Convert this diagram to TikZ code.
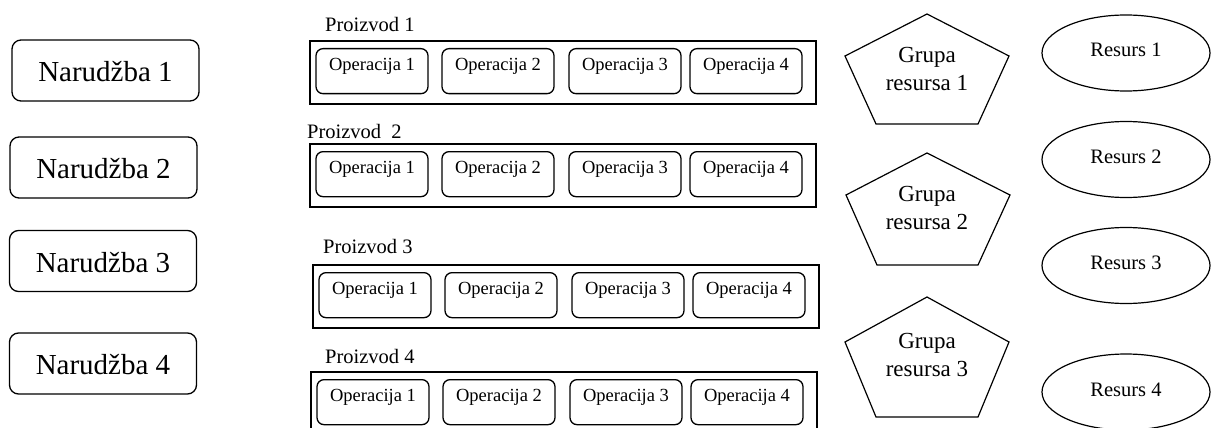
\documentclass[tikz,border=0pt]{standalone}
\usepackage{fontspec}
\setmainfont{Liberation Serif}
\usetikzlibrary{shapes.geometric}
\tikzset{
  order/.style={draw, line width=1.3pt, rounded corners=9pt, minimum width=187pt, minimum height=61pt, inner sep=0pt, text height=22pt, text depth=0pt, font=\fontsize{29}{35}\selectfont},
  prod/.style={draw, line width=1.6pt, minimum width=506pt, minimum height=63pt, inner sep=0pt, anchor=north west},
  op/.style={draw, line width=1.3pt, rounded corners=7pt, minimum width=112pt, inner sep=0pt, text height=22pt, text depth=23pt, anchor=north, font=\fontsize{18.5}{22}\selectfont},
  plabel/.style={anchor=base west, inner sep=0pt, font=\fontsize{20.5}{24}\selectfont},
  grp/.style={draw, line width=1.2pt, line join=miter},
  gtext/.style={align=center, inner sep=0pt, font=\fontsize{23}{28}\selectfont},
  res/.style={draw, ellipse, line width=1.2pt, minimum width=168pt, minimum height=76pt, inner sep=0pt, text height=14pt, text depth=6pt, font=\fontsize{20.5}{24}\selectfont}
}
\begin{document}
\begin{tikzpicture}[x=1pt, y=-1pt]
\useasboundingbox (0,0) rectangle (1211,428);
% orders
\node[order] (n1) at (105.5,70.5) {Narudžba 1};
\node[order] (n2) at (103.5,167.5) {Narudžba 2};
\node[order] (n3) at (103,261) {Narudžba 3};
\node[order] (n4) at (103,363.5) {Narudžba 4};
% products
\foreach \i/\xl/\yt/\lx/\ly/\lt in {1/309/40/325/32/{Proizvod 1}, 2/309/143/307/138/{Proizvod\ \ 2}, 3/312/264/323/253/{Proizvod 3}, 4/310/371/325/363/{Proizvod 4}}{
  \node[plabel] (pl\i) at (\lx,\ly) {\lt};
  \node[prod] (p\i) at (\xl,\yt) {};
  \node[op] (p\i o1) at (\xl+63,\yt+8) {Operacija 1};
  \node[op] (p\i o2) at (\xl+189,\yt+8) {Operacija 2};
  \node[op] (p\i o3) at (\xl+316,\yt+8) {Operacija 3};
  \node[op] (p\i o4) at (\xl+437,\yt+8) {Operacija 4};
}
% resource groups
\draw[grp] (927,14) -- (1009,56) -- (978,124) -- (876,124) -- (845,56) -- cycle;
\node[gtext] (g1) at (927,69) {Grupa\\resursa 1};
\draw[grp] (927,153) -- (1010,195) -- (978,265) -- (877,265) -- (846,195) -- cycle;
\node[gtext] (g2) at (927,208) {Grupa\\resursa 2};
\draw[grp] (927,297) -- (1009,342) -- (978,417) -- (876,417) -- (845,342) -- cycle;
\node[gtext] (g3) at (927,355) {Grupa\\resursa 3};
% resources
\node[res] (r1) at (1126,53) {Resurs 1};
\node[res] (r2) at (1126,159.5) {Resurs 2};
\node[res] (r3) at (1126,265.5) {Resurs 3};
\node[res] (r4) at (1126,392) {Resurs 4};
\end{tikzpicture}
\end{document}
